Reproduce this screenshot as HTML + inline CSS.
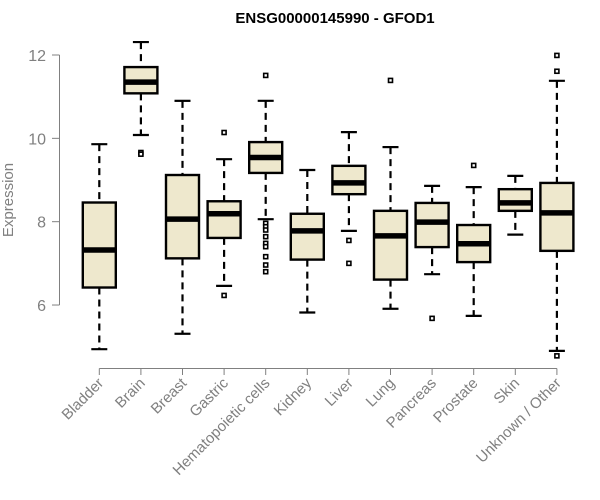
<!DOCTYPE html>
<html><head><meta charset="utf-8"><style>
html,body{margin:0;padding:0;background:#fff;}
svg{display:block;font-family:"Liberation Sans",Arial,sans-serif;}
</style></head><body>
<svg id="chart" width="600" height="500" viewBox="0 0 600 500">
<text x="335" y="23" text-anchor="middle" font-weight="bold" font-size="15" fill="#000">ENSG00000145990 - GFOD1</text>
<text transform="translate(13,200) rotate(-90)" text-anchor="middle" font-size="15" fill="#808080">Expression</text>
<g id="yaxis"></g>
<g id="xaxis"></g>
<g id="boxes"></g>
</svg>
<script>
const categories=["Bladder","Brain","Breast","Gastric","Hematopoietic cells","Kidney","Liver","Lung","Pancreas","Prostate","Skin","Unknown / Other"];
const whiskerLow=[4.94,10.08,5.31,6.46,8.06,5.82,7.78,5.91,6.74,5.74,7.69,4.90];
const q1=[6.42,11.08,7.12,7.61,9.17,7.09,8.66,6.61,7.39,7.03,8.26,7.30];
const median=[7.32,11.35,8.06,8.19,9.54,7.78,8.93,7.66,7.99,7.47,8.45,8.21];
const q3=[8.46,11.71,9.12,8.49,9.91,8.19,9.34,8.26,8.45,7.92,8.78,8.93];
const whiskerHigh=[9.86,12.31,10.9,9.50,10.9,9.24,10.15,9.79,8.86,8.83,9.10,11.38];
const outliers=[[],[9.66,9.62],[],[10.14,6.23],[11.51,7.96,7.88,7.80,7.64,7.48,7.40,7.16,6.96,6.80],[],[7.55,7.0],[11.39],[5.68],[9.35],[],[11.99,11.61,4.78]];
const yTicks=[6,8,10,12];

const NS="http://www.w3.org/2000/svg";
const y=v=>55+(12-v)*41.67;
const x=i=>99.3+i*41.6;
function mk(tag,attrs,parent){const e=document.createElementNS(NS,tag);for(const k in attrs)e.setAttribute(k,attrs[k]);parent.appendChild(e);return e;}
const ya=document.getElementById('yaxis'),xa=document.getElementById('xaxis'),bx=document.getElementById('boxes');
let l=mk('line',{x1:59.5,x2:59.5,y1:y(yTicks[yTicks.length-1]),y2:y(yTicks[0]),stroke:'#808080','stroke-width':1},ya);


yTicks.forEach(t=>{
  const tk=mk('line',{x1:52,x2:59.5,y1:y(t),y2:y(t),stroke:'#808080'},ya);
  
  
  const tx=mk('text',{x:46,y:y(t)+6,'text-anchor':'end','font-size':16,fill:'#808080'},ya);
  tx.textContent=t;
  
  
});
l=mk('line',{x1:x(0),x2:x(categories.length-1),y1:368.5,y2:368.5,stroke:'#808080'},xa);


categories.forEach((c,i)=>{
  const cx=x(i);
  const tk=mk('line',{x1:cx,x2:cx,y1:368.5,y2:375,stroke:'#808080'},xa);
  
  
  const tx=mk('text',{transform:`translate(${cx+5},${384}) rotate(-45)`,'text-anchor':'end','font-size':15,fill:'#808080'},xa);
  tx.textContent=c;
  
  
  const g=mk('g',{},bx);
  
  
  const hw=16.5;
  mk('line',{x1:cx,x2:cx,y1:y(whiskerHigh[i]),y2:y(q3[i]),stroke:'#000','stroke-width':2.2,'stroke-dasharray':'7,5'},g);
  mk('line',{x1:cx,x2:cx,y1:y(q1[i]),y2:y(whiskerLow[i]),stroke:'#000','stroke-width':2.2,'stroke-dasharray':'7,5'},g);
  mk('line',{x1:cx-8,x2:cx+8,y1:y(whiskerHigh[i]),y2:y(whiskerHigh[i]),stroke:'#000','stroke-width':2.2},g);
  mk('line',{x1:cx-8,x2:cx+8,y1:y(whiskerLow[i]),y2:y(whiskerLow[i]),stroke:'#000','stroke-width':2.2},g);
  mk('rect',{x:cx-hw,y:y(q3[i]),width:hw*2,height:y(q1[i])-y(q3[i]),fill:'#EEE8CD',stroke:'#000','stroke-width':2.4},g);
  mk('line',{x1:cx-hw,x2:cx+hw,y1:y(median[i]),y2:y(median[i]),stroke:'#000','stroke-width':5.5},g);
  outliers[i].forEach(o=>{
    const p=mk('rect',{x:cx-2,y:y(o)-2,width:4,height:4,fill:'#fff',stroke:'#000','stroke-width':1.6},g);
    
    
  });
});
</script>
</body></html>
